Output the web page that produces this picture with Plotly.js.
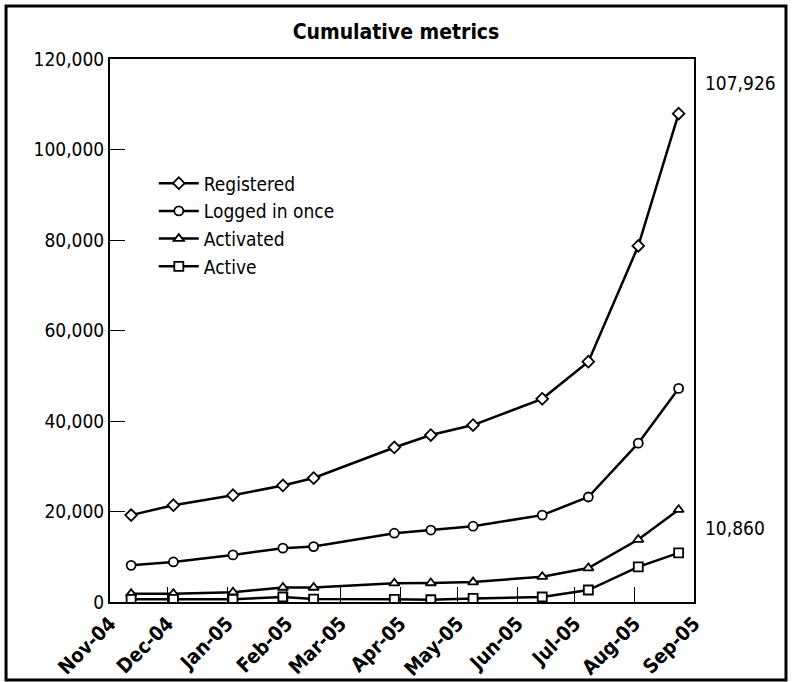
<!DOCTYPE html>
<html>
<head>
<meta charset="utf-8">
<script src="https://cdn.plot.ly/plotly-3.0.1.min.js"></script>
<style>html,body{margin:0;padding:0;background:#fff}#chart{width:792px;height:682px}</style>
</head>
<body>
<div id="chart"></div>
<script>
const dates = ["2004-11-12","2004-12-04","2005-01-04","2005-01-30","2005-02-15","2005-03-29","2005-04-17","2005-05-09","2005-06-14","2005-07-08","2005-08-03","2005-08-24"];
const registered = [19200,21400,23600,25750,27400,34150,36900,39100,44900,53100,78700,107926];
const loggedInOnce = [8100,8850,10400,11900,12250,15200,15900,16750,19200,23200,35100,47200];
const activated = [1850,1850,2150,3200,3200,4150,4200,4400,5600,7500,13800,20400];
const active = [600,600,600,1100,650,600,500,800,1100,2650,7750,10860];
const tickVals = ["2004-11-01","2004-12-01","2005-01-01","2005-02-01","2005-03-01","2005-04-01","2005-05-01","2005-06-01","2005-07-01","2005-08-01","2005-09-01"];
const tickText = ["Nov-04","Dec-04","Jan-05","Feb-05","Mar-05","Apr-05","May-05","Jun-05","Jul-05","Aug-05","Sep-05"];
const yTicks = [0,20000,40000,60000,80000,100000,120000];
const yTickText = ["0","20,000","40,000","60,000","80,000","100,000","120,000"];

const FONT = "'DejaVu Sans Condensed','Liberation Sans Narrow',Arial,sans-serif";

function series(name, y, symbol){
  return {x: dates, y: y, name: name, type: 'scatter', mode: 'lines+markers',
    line: {color: '#000', width: 2.5},
    marker: {symbol: symbol, size: 9, color: '#fff', line: {color: '#000', width: 1.8}}};
}
const data = [
  series('Registered', registered, 'diamond'),
  series('Logged in once', loggedInOnce, 'circle'),
  series('Activated', activated, 'triangle-up'),
  series('Active', active, 'square')
];
const layout = {
  width: 792, height: 682,
  margin: {l: 110, r: 98, t: 59, b: 80},
  paper_bgcolor: '#fff', plot_bgcolor: '#fff',
  font: {family: FONT, color: '#000', size: 17},
  title: {text: '<b>Cumulative metrics</b>', x: 0.5, xanchor: 'center', y: 0.953, yanchor: 'middle', font: {family: FONT, size: 21, color: '#000'}},
  showlegend: true,
  legend: {x: 0.075, y: 0.806, xanchor: 'left', yanchor: 'top', bgcolor: 'rgba(0,0,0,0)', font: {family: FONT, size: 19}, itemwidth: 40, tracegroupgap: 0},
  xaxis: {type: 'date', range: ['2004-11-01','2005-09-01'], tickvals: tickVals, ticktext: tickText,
    tickangle: -45, ticks: 'inside', ticklen: 15, tickwidth: 1, tickcolor: '#000',
    tickfont: {family: FONT, size: 20, color: '#000', weight: 'bold'},
    showgrid: false, zeroline: false, showline: true, linecolor: '#000', linewidth: 2, mirror: true},
  yaxis: {range: [0, 120000], tickvals: yTicks, ticktext: yTickText,
    ticks: 'inside', ticklen: 15, tickwidth: 1, tickcolor: '#000',
    tickfont: {family: FONT, size: 19, color: '#000'},
    showgrid: false, zeroline: false, showline: true, linecolor: '#000', linewidth: 2, mirror: true},
  annotations: [
    {xref: 'paper', yref: 'paper', x: 1.015, y: 0.955, xanchor: 'left', yanchor: 'middle', showarrow: false,
      text: '107,926', font: {family: FONT, size: 19, color: '#000'}},
    {xref: 'paper', yref: 'paper', x: 1.015, y: 0.136, xanchor: 'left', yanchor: 'middle', showarrow: false,
      text: '10,860', font: {family: FONT, size: 19, color: '#000'}}
  ],
  shapes: [
    {type: 'rect', xref: 'paper', yref: 'paper', x0: -0.178, x1: 1.1575, y0: -0.1436, y1: 1.0976,
      line: {color: '#000', width: 3}, fillcolor: 'rgba(0,0,0,0)'}
  ]
};
Plotly.newPlot('chart', data, layout, {staticPlot: true, displayModeBar: false});
</script>
</body>
</html>
